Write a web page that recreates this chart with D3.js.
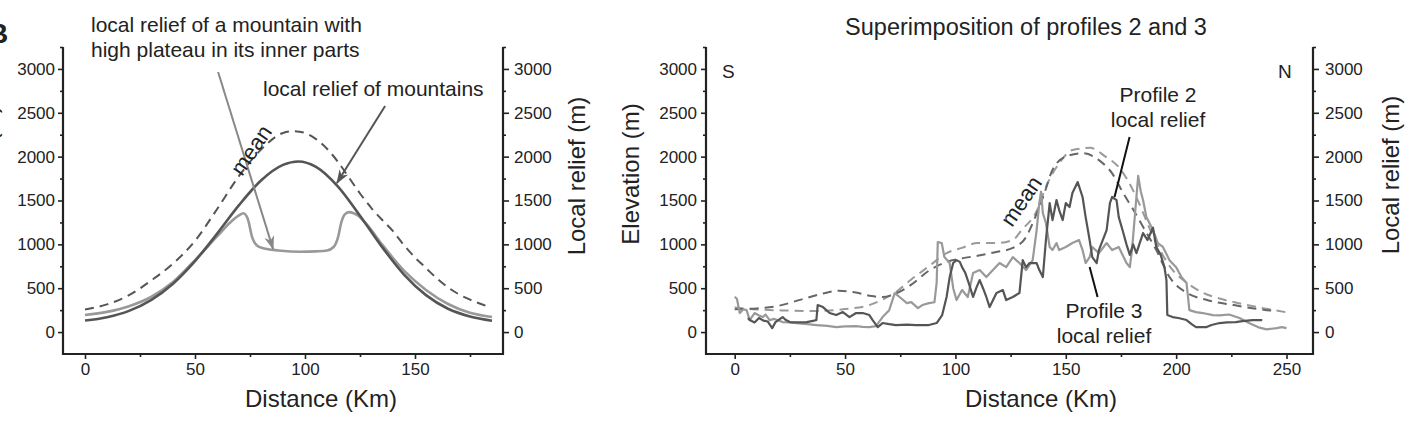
<!DOCTYPE html>
<html>
<head>
<meta charset="utf-8">
<script src="https://cdn.jsdelivr.net/npm/d3@7"></script>
<style>
  body { margin: 0; background: #fff; }
  svg { display: block; font-family: "Liberation Sans", Arial, sans-serif; }
</style>
</head>
<body>
<script>
// tick values
const majorY = [0, 500, 1000, 1500, 2000, 2500, 3000];
const minorY = [250, 750, 1250, 1750, 2250, 2750, 3250];
const leftMajorX = [0, 50, 100, 150];
const leftMinorX = [25, 75, 125, 175];
const rightMajorX = [0, 50, 100, 150, 200, 250];
const rightMinorX = [25, 75, 125, 175, 225];

// left panel: model mountain (distance km, metres)
const modelMean = [[0,257],[10,316],[20,420],[30,586],[40,780],[50,1040],[60,1400],[70,1780],[80,2080],[90,2270],[95,2290],[100,2270],[105,2200],[110,2090],[115,1940],[120,1760],[125,1580],[130,1420],[135,1280],[140,1150],[145,990],[150,850],[155,730],[160,610],[165,510],[170,430],[175,370],[180,320],[184,285]];
const modelRelief = [[0,132],[10,170],[20,242],[30,365],[40,552],[50,810],[60,1120],[70,1447],[80,1728],[90,1906],[97,1945],[105,1884],[115,1659],[125,1327],[135,971],[145,656],[155,421],[165,266],[175,178],[185,130]];
const plateauRelief = [[0,194],[10,230],[20,295],[30,400],[40,570],[50,820],[60,1090],[66,1250],[70,1330],[72,1355],[74,1290],[76,1080],[78,990],[81,955],[88,930],[98,915],[105,920],[110,930],[113,970],[115,1080],[116.5,1250],[118,1340],[120,1368],[124,1330],[128,1230],[135,1000],[145,700],[155,480],[165,320],[175,220],[185,172]];

// right panel: profiles 2 and 3
const profile2 = [[6,160],[6.8,137],[9,110],[11,160],[13,130],[15,120],[17,45],[18.5,114],[21.7,171],[23,140],[25,114],[29,110],[32.6,114],[36,130],[37,137],[37.6,308],[40,285],[43,217],[46,194],[49,228],[52,171],[55,217],[58,217],[61,194],[62.5,137],[64.8,57],[67,103],[70,90],[73,80],[78,85],[82,80],[88,80],[91.5,103],[94,194],[96,400],[97.4,627],[99,787],[100.5,820],[102,800],[103,740],[104.5,673],[106,560],[108,400],[109.6,513],[111,593],[112.5,500],[114,400],[115.5,285],[118.6,445],[121.5,479],[123,365],[126,400],[129,445],[130.5,820],[132,740],[133.6,787],[136.8,787],[138,707],[139.6,627],[141,1049],[142.7,1470],[144,1277],[145.8,1505],[147,1391],[148.6,1277],[150,1470],[151.7,1425],[153,1585],[155.4,1710],[157.6,1540],[159,1311],[160.8,1049],[162,855],[164,787],[165,935],[168.5,1163],[170,1470],[171,1540],[173,1505],[174,1311],[175.7,1163],[177.5,1000],[179,880],[180.5,1000],[182,900],[185,1129],[187,1050],[189.5,1190],[191,970],[193,880],[194.7,740],[195.6,593],[196,194],[198.4,171],[201,160],[204.7,137],[207,90],[209,57],[213.8,57],[216,80],[219.7,103],[223,110],[227,114],[230,125],[234.6,137],[239,137]];
const profile3 = [[0,400],[1,380],[2.3,217],[4,260],[5.4,250],[6.8,137],[9,217],[11,190],[12.7,171],[14,200],[15.8,137],[18,150],[21.7,114],[25,110],[28,103],[33,90],[37,80],[42,70],[46,57],[50,65],[55,68],[58,60],[61,57],[64,68],[67,171],[70,250],[72.5,445],[74.7,400],[78,330],[80,342],[83,273],[85,308],[88,330],[90.5,340],[91.5,560],[92,1026],[93.8,1015],[95,855],[97.4,787],[99,500],[100.5,365],[103,479],[105.6,400],[108,673],[111,707],[114,627],[117,707],[120,787],[123,740],[126,855],[129,787],[132,707],[135,820],[136.8,1163],[138,1470],[138.8,1600],[139.6,1357],[141,1243],[142.7,970],[144,935],[145.8,1015],[147,935],[150,970],[153,1015],[156,1049],[157.6,935],[159,787],[160.8,855],[162,970],[165,900],[168.5,1015],[171,935],[174,970],[177.5,787],[179,740],[180,935],[182,1540],[182.8,1780],[184,1600],[185,1505],[186.5,1311],[189.5,1163],[191.7,1015],[194,970],[197,820],[200,740],[202.4,627],[204.7,560],[206,250],[209,228],[212,217],[216.6,194],[219.7,190],[224,200],[228.7,160],[233,103],[237.8,50],[241,30],[245.5,45],[248,57],[250,45]];
const mean2 = [[0,260],[10,270],[20,300],[30,370],[40,440],[47,470],[55,450],[62,410],[67,400],[73,440],[80,540],[88,700],[95,790],[103,840],[110,870],[118,910],[126,960],[132,1083],[135,1240],[140,1560],[144,1850],[150,2000],[158,2040],[165,1960],[171,1810],[176,1585],[180,1420],[185,1200],[191,935],[197,627],[205,445],[214,365],[226,308],[241,250],[245,240]];
const mean3 = [[0,280],[10,258],[20,248],[35,240],[50,262],[60,300],[67,370],[73,456],[80,600],[88,750],[96,900],[103,960],[110,1015],[119,1015],[126,1050],[130,1163],[137,1390],[141,1655],[147,1925],[153,2075],[161,2100],[168,2000],[174,1880],[178,1733],[183,1480],[188,1180],[193,920],[198,720],[205,560],[212,450],[220,380],[230,320],[240,270],[250,225]];

const width = 1414, height = 422;
const svg = d3.select("body").append("svg").attr("width", width).attr("height", height);

const y = d3.scaleLinear().domain([-250, 3250]).range([354, 47]);
const xL = d3.scaleLinear().domain([-10, 190]).range([63, 503]);
const xR = d3.scaleLinear().domain([-13, 262]).range([706, 1313]);
const fmt = d3.format("d");

const defs = svg.append("defs");
function addMarker(id, color) {
  defs.append("marker")
    .attr("id", id)
    .attr("viewBox", "0 0 14 10")
    .attr("refX", 13).attr("refY", 5)
    .attr("markerWidth", 14).attr("markerHeight", 10)
    .attr("markerUnits", "userSpaceOnUse")
    .attr("orient", "auto")
    .append("path").attr("d", "M0,0 L14,5 L0,10 L4,5 Z").attr("fill", color);
}
addMarker("arrGray", "#888");
addMarker("arrDark", "#555");

function styleAxis(g) {
  g.select(".domain").remove();
  g.selectAll("line").attr("stroke", "#222").attr("stroke-width", 1.6);
  g.selectAll("text").attr("fill", "#222").attr("font-size", 17).attr("font-family", null);
}

function frame(x, majorX, minorX, padL, padR) {
  const [x0, x1] = x.range();
  const [yb, yt] = y.range();
  const g = svg.append("g");
  g.append("g").attr("transform", `translate(0,${yb})`)
    .call(d3.axisBottom(x).tickValues(majorX).tickFormat(fmt).tickSize(5).tickPadding(4)).call(styleAxis);
  g.append("g").attr("transform", `translate(0,${yb})`)
    .call(d3.axisBottom(x).tickValues(minorX).tickSize(3).tickFormat("")).call(styleAxis);
  g.append("g").attr("transform", `translate(${x0},0)`)
    .call(d3.axisLeft(y).tickValues(majorY).tickFormat(fmt).tickSize(5).tickPadding(padL)).call(styleAxis);
  g.append("g").attr("transform", `translate(${x0},0)`)
    .call(d3.axisLeft(y).tickValues(minorY).tickSize(3).tickFormat("")).call(styleAxis);
  g.append("g").attr("transform", `translate(${x1},0)`)
    .call(d3.axisRight(y).tickValues(majorY).tickFormat(fmt).tickSize(6).tickPadding(padR)).call(styleAxis);
  g.append("g").attr("transform", `translate(${x1},0)`)
    .call(d3.axisRight(y).tickValues(minorY).tickSize(3).tickFormat("")).call(styleAxis);
  g.append("path")
    .attr("d", `M${x0},${yt}V${yb}H${x1}V${yt}`)
    .attr("fill", "none").attr("stroke", "#222").attr("stroke-width", 2.2);
}

frame(xL, leftMajorX, leftMinorX, 3, 5);
frame(xR, rightMajorX, rightMinorX, 4, 6);

function text(str, x, yy, size, opts = {}) {
  const t = svg.append("text").attr("x", x).attr("y", yy)
    .attr("font-size", size).attr("fill", opts.fill || "#222")
    .attr("text-anchor", opts.anchor || "start").text(str);
  if (opts.weight) t.attr("font-weight", opts.weight);
  if (opts.transform) t.attr("transform", opts.transform).attr("x", null).attr("y", null);
  return t;
}

// ---------- left panel ----------
const smooth = d3.line().x(d => xL(d[0])).y(d => y(d[1])).curve(d3.curveMonotoneX);

svg.append("path").attr("d", smooth(modelMean))
  .attr("fill", "none").attr("stroke", "#555").attr("stroke-width", 2).attr("stroke-dasharray", "9,6");
svg.append("path").attr("d", smooth(plateauRelief))
  .attr("fill", "none").attr("stroke", "#999").attr("stroke-width", 2.6);
svg.append("path").attr("d", smooth(modelRelief))
  .attr("fill", "none").attr("stroke", "#555").attr("stroke-width", 2.6);

// arrows (data coordinates)
svg.append("line")
  .attr("x1", xL(60.5)).attr("y1", y(2965)).attr("x2", xL(85.5)).attr("y2", y(946))
  .attr("stroke", "#888").attr("stroke-width", 2).attr("marker-end", "url(#arrGray)");
svg.append("line")
  .attr("x1", xL(136.4)).attr("y1", y(2577)).attr("x2", xL(114.5)).attr("y2", y(1699))
  .attr("stroke", "#555").attr("stroke-width", 2).attr("marker-end", "url(#arrDark)");

text("B", -12, 43, 28, { weight: "bold" });
text("local relief of a mountain with", 91, 32, 21);
text("high plateau in its inner parts", 91, 57, 21);
text("local relief of mountains", 263, 96, 21);
text("mean", 0, 0, 22, { anchor: "middle", transform: "translate(251,150) rotate(-56)" }).attr("dy", "0.35em");
text("Distance (Km)", 321, 407, 24, { anchor: "middle" });
text("Elevation (m)", 0, 0, 24, { anchor: "middle", transform: "translate(-3,176) rotate(-90)" });
text("Local relief (m)", 0, 0, 24, { anchor: "middle", transform: "translate(585,176) rotate(-90)" });

// ---------- right panel ----------
const jag = d3.line().x(d => xR(d[0])).y(d => y(d[1]));
const smoothR = d3.line().x(d => xR(d[0])).y(d => y(d[1])).curve(d3.curveMonotoneX);

svg.append("path").attr("d", smoothR(mean3))
  .attr("fill", "none").attr("stroke", "#9a9a9a").attr("stroke-width", 2).attr("stroke-dasharray", "9,6");
svg.append("path").attr("d", smoothR(mean2))
  .attr("fill", "none").attr("stroke", "#666").attr("stroke-width", 2).attr("stroke-dasharray", "9,6");
svg.append("path").attr("d", jag(profile3))
  .attr("fill", "none").attr("stroke", "#999").attr("stroke-width", 2.2).attr("stroke-linejoin", "round");
svg.append("path").attr("d", jag(profile2))
  .attr("fill", "none").attr("stroke", "#555").attr("stroke-width", 2.2).attr("stroke-linejoin", "round");

svg.append("line")
  .attr("x1", xR(178.9)).attr("y1", y(2223)).attr("x2", xR(172.1)).attr("y2", y(1539))
  .attr("stroke", "#111").attr("stroke-width", 2);
svg.append("line")
  .attr("x1", xR(160.8)).attr("y1", y(741)).attr("x2", xR(164.4)).attr("y2", y(399))
  .attr("stroke", "#111").attr("stroke-width", 2);

text("Superimposition of profiles 2 and 3", 1026, 35, 23.5, { anchor: "middle" });
text("S", 722, 78, 19);
text("N", 1278, 78, 19);
text("Profile 2", 1158, 102, 21, { anchor: "middle" });
text("local relief", 1158, 127, 21, { anchor: "middle" });
text("Profile 3", 1104, 318, 21, { anchor: "middle" });
text("local relief", 1104, 343, 21, { anchor: "middle" });
text("mean", 0, 0, 22, { anchor: "middle", transform: "translate(1021,201) rotate(-56)" }).attr("dy", "0.35em");
text("Distance (Km)", 1041, 407, 24, { anchor: "middle" });
text("Elevation (m)", 0, 0, 24, { anchor: "middle", transform: "translate(639,174) rotate(-90)" });
text("Local relief (m)", 0, 0, 24, { anchor: "middle", transform: "translate(1399,175) rotate(-90)" });
</script>
</body>
</html>
